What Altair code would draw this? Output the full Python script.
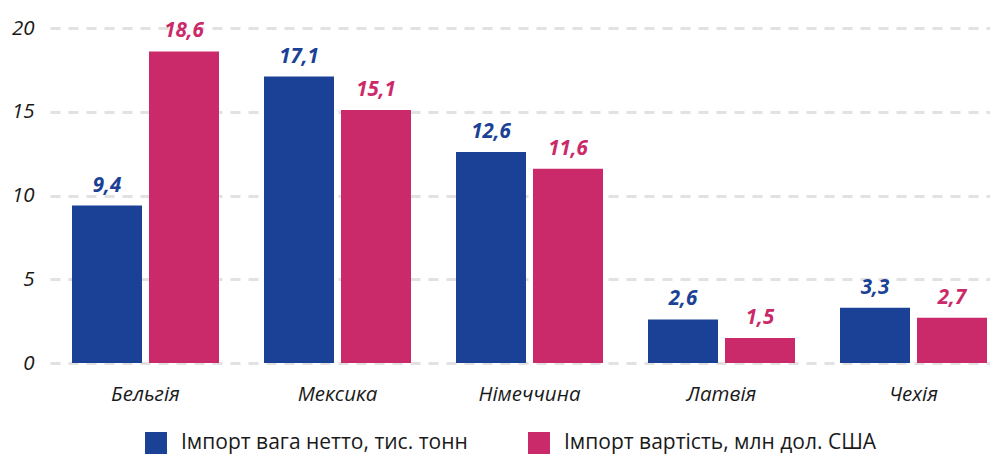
import altair as alt
import pandas as pd

countries = ["Бельгія", "Мексика", "Німеччина", "Латвія", "Чехія"]
series_names = ["Імпорт вага нетто, тис. тонн", "Імпорт вартість, млн дол. США"]
weight = [9.4, 17.1, 12.6, 2.6, 3.3]
value = [18.6, 15.1, 11.6, 1.5, 2.7]
colors = ["#1B4196", "#CB2A6A"]

rows = []
for i, c in enumerate(countries):
    for s, vals in zip(series_names, [weight, value]):
        v = vals[i]
        rows.append({"country": c, "series": s, "v": v,
                     "label": f"{v:.1f}".replace(".", ",")})
df = pd.DataFrame(rows)

FONT = "Open Sans"

x = alt.X("country:N", sort=countries, title=None,
          scale=alt.Scale(paddingInner=0.234375, paddingOuter=0.0651, align=0.88),
          axis=alt.Axis(labelAngle=0, labelFontSize=20.5, labelFontStyle="italic",
                        labelFont=FONT, labelColor="#1a1a1a", labelPadding=21,
                        ticks=False, domain=False, grid=False))
xo = alt.XOffset("series:N", sort=series_names,
                 scale=alt.Scale(paddingInner=0.0909, paddingOuter=0))
color = alt.Color("series:N", sort=series_names,
                  scale=alt.Scale(domain=series_names, range=colors),
                  legend=alt.Legend(title=None, orient="none", legendX=95, legendY=404,
                                    direction="horizontal", symbolType="square",
                                    symbolSize=484, symbolStrokeWidth=0,
                                    labelFont=FONT, labelFontSize=21, labelColor="#1a1a1a",
                                    labelOffset=14, columnPadding=60, labelLimit=500))
y = alt.Y("v:Q", title=None,
          scale=alt.Scale(domain=[0, 20], nice=False),
          axis=alt.Axis(values=[0, 5, 10, 15, 20], labelFontSize=20.5, labelFontStyle="italic",
                        labelFont=FONT, labelColor="#1a1a1a", labelPadding=16,
                        ticks=False, domain=False, grid=True, gridDash=[10, 8],
                        gridColor="#e2e2e2", gridWidth=3))

base = alt.Chart(df)
bars = base.mark_bar().encode(x=x, xOffset=xo, y=y, color=color)
text = base.mark_text(baseline="bottom", dy=-10, fontSize=20.5, fontWeight="bold",
                      fontStyle="italic", font=FONT).encode(
    x=x, xOffset=xo, y=y, text="label:N",
    color=alt.Color("series:N", sort=series_names,
                    scale=alt.Scale(domain=series_names, range=colors), legend=None))

chart = (bars + text).properties(
    width=940, height=335,
    autosize=alt.AutoSizeParams(type="none"),
    padding={"left": 42, "top": 20, "right": 0, "bottom": 92},
).configure_view(stroke=None)

chart.save("out.html", embed_options={"renderer": "svg", "actions": False})
